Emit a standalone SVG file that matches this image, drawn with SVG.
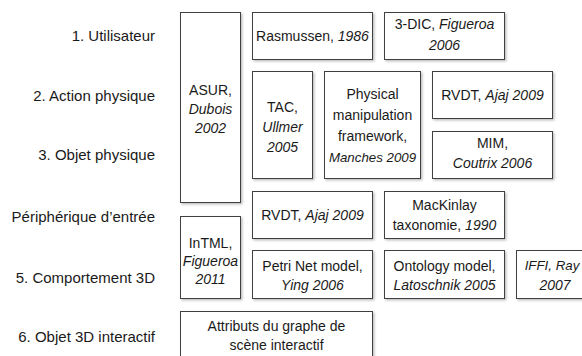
<svg xmlns="http://www.w3.org/2000/svg" width="582" height="356" viewBox="0 0 582 356">
<defs>
<filter id="sh" x="-10%" y="-10%" width="130%" height="130%">
<feDropShadow dx="1.5" dy="1.5" stdDeviation="1" flood-color="#000" flood-opacity="0.25"/>
</filter>
</defs>
<style>
rect{fill:#fff;stroke:#404040;stroke-width:1;filter:url(#sh)}
text{font-family:"Liberation Sans",Arial,sans-serif;font-size:14px;fill:#1a1a1a;text-anchor:middle}
.lbl{font-size:15px;text-anchor:end}
.i{font-style:italic}
.s{font-size:13.3px}
</style>
<g id="labels">
<text class="lbl" x="155" y="41">1. Utilisateur</text>
<text class="lbl" x="155" y="101">2. Action physique</text>
<text class="lbl" x="155" y="160">3. Objet physique</text>
<text class="lbl" x="155" y="222">Périphérique d’entrée</text>
<text class="lbl" x="155" y="283">5. Comportement 3D</text>
<text class="lbl" x="155" y="342">6. Objet 3D interactif</text>
</g>
<g id="connectors"></g>
<g id="asur">
<rect x="180.5" y="12.5" width="60" height="190"/>
<text x="210.5" y="95">ASUR,</text>
<text class="i" x="210.5" y="114">Dubois</text>
<text class="i" x="210.5" y="133">2002</text>
</g>
<g id="rasmussen">
<rect x="252.5" y="12.5" width="120" height="47"/>
<text x="312.5" y="41">Rasmussen, <tspan class="i">1986</tspan></text>
</g>
<g id="dic">
<rect x="384.5" y="12.5" width="120" height="47"/>
<text x="444.5" y="29">3-DIC, <tspan class="i">Figueroa</tspan></text>
<text class="i" x="444.5" y="50">2006</text>
</g>
<g id="tac">
<rect x="252.5" y="71.5" width="60" height="107"/>
<text x="282.5" y="112">TAC,</text>
<text class="i" x="282.5" y="132">Ullmer</text>
<text class="i" x="282.5" y="152">2005</text>
</g>
<g id="physical">
<rect x="324.5" y="71.5" width="96" height="107"/>
<text x="372.5" y="99">Physical</text>
<text x="372.5" y="120">manipulation</text>
<text x="372.5" y="141">framework,</text>
<text class="i s" x="372.5" y="162">Manches 2009</text>
</g>
<g id="rvdt1">
<rect x="432.5" y="71.5" width="120" height="47"/>
<text x="492.5" y="100">RVDT, <tspan class="i">Ajaj 2009</tspan></text>
</g>
<g id="mim">
<rect x="432.5" y="131.5" width="120" height="47"/>
<text x="492.5" y="148">MIM,</text>
<text class="i" x="492.5" y="168">Coutrix 2006</text>
</g>
<g id="rvdt2">
<rect x="252.5" y="191.5" width="120" height="47"/>
<text x="312.5" y="220">RVDT, <tspan class="i">Ajaj 2009</tspan></text>
</g>
<g id="mackinlay">
<rect x="384.5" y="191.5" width="120" height="47"/>
<text x="444.5" y="210">MacKinlay</text>
<text x="444.5" y="230">taxonomie, <tspan class="i">1990</tspan></text>
</g>
<g id="intml">
<rect x="180.5" y="216.5" width="60" height="82"/>
<text x="210.5" y="248">InTML,</text>
<text class="i" x="210.5" y="266">Figueroa</text>
<text class="i" x="210.5" y="284">2011</text>
</g>
<g id="petri">
<rect x="252.5" y="250.5" width="120" height="48"/>
<text x="312.5" y="271">Petri Net model,</text>
<text class="i" x="312.5" y="290">Ying 2006</text>
</g>
<g id="ontology">
<rect x="384.5" y="250.5" width="120" height="48"/>
<text x="444.5" y="271">Ontology model,</text>
<text class="i" x="444.5" y="290">Latoschnik 2005</text>
</g>
<g id="iffi">
<rect x="516.5" y="250.5" width="80" height="48"/>
<text class="i s" x="552" y="270">IFFI, Ray</text>
<text class="i" x="555" y="290">2007</text>
</g>
<g id="attributs">
<rect x="180.5" y="311.5" width="192" height="60"/>
<text x="276.5" y="331">Attributs du graphe de</text>
<text x="276.5" y="350">scène interactif</text>
</g>
</svg>
